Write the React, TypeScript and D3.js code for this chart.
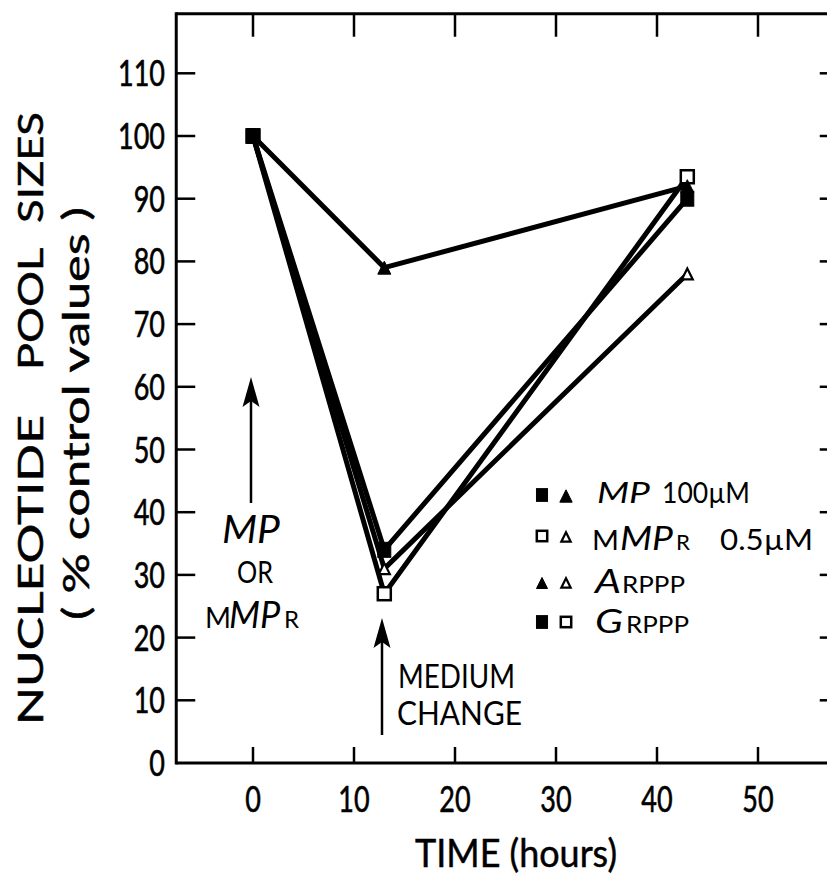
import React from 'react';
import * as d3 from 'd3';

// ---- data ----
const timeHours = [0, 13, 43];
const mpATP = [100, 79, 92];
const mpGTP = [100, 34, 90];
const mmprATP = [100, 31, 78];
const mmprGTP = [100, 27, 93.5];
const xTickValues = [0, 10, 20, 30, 40, 50];
const xTickLabels = ['0', '10', '20', '30', '40', '50'];
const yTickValues = [0, 10, 20, 30, 40, 50, 60, 70, 80, 90, 100, 110];
const yTickLabels = ['0', '10', '20', '30', '40', '50', '60', '70', '80', '90', '100', '110'];

type Shape = 'square' | 'triangle';
interface Series { name: string; values: number[]; shape: Shape; filled: boolean }
const series: Series[] = [
  { name: 'mMPR GTP', values: mmprGTP, shape: 'square', filled: false },
  { name: 'mMPR ATP', values: mmprATP, shape: 'triangle', filled: false },
  { name: 'MP ATP', values: mpATP, shape: 'triangle', filled: true },
  { name: 'MP GTP', values: mpGTP, shape: 'square', filled: true },
];

const W = 827, H = 879;
const FONT = 'Lato, "DejaVu Sans", sans-serif';

const x = d3.scaleLinear().domain([0, 50]).range([253, 758]);
const y = d3.scaleLinear().domain([0, 100]).range([763, 136]);
const xMin = -7.6, xMax = 57.5, yMax = 119.5;

function Marker({ cx, cy, shape, filled, s = 1 }: { cx: number; cy: number; shape: Shape; filled: boolean; s?: number }) {
  if (shape === 'square') {
    const w = 13 * s, h = (filled ? 15 : 13) * s;
    return (
      <rect x={cx - w / 2} y={cy - h / 2} width={w} height={h}
        fill={filled ? '#000' : '#fff'} stroke="#000" strokeWidth={filled ? 1 : 2.5} />
    );
  }
  const w = (filled ? 13 : 11) * s, h = (filled ? 13 : 11) * s;
  const p = `M${cx},${cy - h / 2} L${cx + w / 2},${cy + h / 2} L${cx - w / 2},${cy + h / 2} Z`;
  return <path d={p} fill={filled ? '#000' : '#fff'} stroke="#000" strokeWidth={filled ? 1 : 2.2} strokeLinejoin="miter" />;
}

function Arrow({ ax, y0, y1 }: { ax: number; y0: number; y1: number }) {
  return (
    <g>
      <line x1={ax} x2={ax} y1={y0} y2={y1 + 20} stroke="#000" strokeWidth={2.5} />
      <path d={`M${ax},${y1} L${ax + 8.5},${y1 + 30} L${ax},${y1 + 24} L${ax - 8.5},${y1 + 30} Z`} fill="#000" />
    </g>
  );
}

export default function App() {
  const line = d3.line<number>().x((_, i) => x(timeHours[i])).y((d) => y(d));
  const left = x(xMin), right = x(xMax), top = y(yMax), bottom = y(0);

  return (
    <svg width={W} height={H} style={{ position: 'absolute', left: 0, top: 0, background: '#fff' }}
      fontFamily={FONT}>
      <rect x={0} y={0} width={W} height={H} fill="#fff" />
      {/* frame */}
      <g stroke="#000" strokeWidth={3} fill="none">
        <line x1={left} x2={right} y1={bottom} y2={bottom} />
        <line x1={left} x2={right} y1={top} y2={top} />
        <line x1={left} x2={left} y1={top - 1.5} y2={bottom + 1.5} />
        <line x1={right} x2={right} y1={top} y2={bottom} />
      </g>
      {/* ticks */}
      <g stroke="#000" strokeWidth={2.5}>
        {xTickValues.map((v) => (
          <g key={'xt' + v}>
            <line x1={x(v)} x2={x(v)} y1={bottom} y2={bottom - 16} />
            <line x1={x(v)} x2={x(v)} y1={top} y2={top + 23} />
          </g>
        ))}
        {yTickValues.filter((v) => v > 0).map((v) => (
          <g key={'yt' + v}>
            <line x1={left} x2={left + 19} y1={y(v)} y2={y(v)} />
            <line x1={right} x2={right - 14} y1={y(v)} y2={y(v)} />
          </g>
        ))}
      </g>
      {/* tick labels */}
      <g fill="#000" fontSize={36} stroke="#000" strokeWidth={0.6}>
        {xTickValues.map((v, i) => (
          <g key={'xl' + v} transform={`translate(${x(v)},812) scale(0.75,1)`}>
            <text textAnchor="middle">{xTickLabels[i]}</text>
          </g>
        ))}
        {yTickValues.map((v, i) => (
          <g key={'yl' + v} transform={`translate(165,${y(v) + 13}) scale(0.75,1)`}>
            <text textAnchor="end">{yTickLabels[i]}</text>
          </g>
        ))}
      </g>
      {/* axis titles */}
      <text x={415} y={867} fontSize={39} textLength={202} lengthAdjust="spacingAndGlyphs" stroke="#000" strokeWidth={0.5}>TIME (hours)</text>
      <g fontSize={35} stroke="#000" strokeWidth={0.5}>
        <text transform="translate(43,725) rotate(-90)" textLength={310} lengthAdjust="spacingAndGlyphs">NUCLEOTIDE</text>
        <text transform="translate(43,370) rotate(-90)" textLength={122} lengthAdjust="spacingAndGlyphs">POOL</text>
        <text transform="translate(43,223) rotate(-90)" textLength={111} lengthAdjust="spacingAndGlyphs">SIZES</text>
        <text transform="translate(89,620) rotate(-90)" fontSize={37} textLength={413} lengthAdjust="spacingAndGlyphs">( % control values )</text>
      </g>

      {/* data lines */}
      <g fill="none" stroke="#000" strokeWidth={5} strokeLinejoin="round">
        {series.map((s) => (
          <path key={'l' + s.name} d={line(s.values) || ''} />
        ))}
      </g>
      {/* markers */}
      {series.map((s) => (
        <g key={'m' + s.name}>
          {s.values.map((v, i) => (
            <Marker key={i} cx={x(timeHours[i])} cy={y(v)} shape={s.shape} filled={s.filled} />
          ))}
        </g>
      ))}

      {/* annotations */}
      <Arrow ax={251} y0={503} y1={377} />
      <text x={222} y={543} fontSize={38} fontStyle="italic" textLength={58} lengthAdjust="spacingAndGlyphs">MP</text>
      <text x={237} y={583} fontSize={30} textLength={36} lengthAdjust="spacingAndGlyphs">OR</text>
      <text y={628}>
        <tspan x={205} fontSize={28}>M</tspan>
        <tspan x={229} fontSize={36} fontStyle="italic">MP</tspan>
        <tspan x={284} fontSize={24}>R</tspan>
      </text>

      <Arrow ax={382} y0={735} y1={618} />
      <text x={398} y={688} fontSize={32} textLength={117} lengthAdjust="spacingAndGlyphs">MEDIUM</text>
      <text x={397} y={725} fontSize={32} textLength={125} lengthAdjust="spacingAndGlyphs">CHANGE</text>

      {/* legend */}
      <g>
        <Marker cx={542} cy={495} shape="square" filled={true} s={0.85} />
        <Marker cx={566} cy={496} shape="triangle" filled={true} s={0.95} />
        <text x={597} y={503} fontSize={28} fontStyle="italic" textLength={53} lengthAdjust="spacingAndGlyphs">MP</text>
        <text x={662} y={503} fontSize={28} textLength={88} lengthAdjust="spacingAndGlyphs">100µM</text>

        <Marker cx={542} cy={536} shape="square" filled={false} s={0.8} />
        <Marker cx={566} cy={537} shape="triangle" filled={false} s={0.85} />
        <text x={592} y={550} fontSize={27} textLength={27} lengthAdjust="spacingAndGlyphs">M</text>
        <text x={620} y={550} fontSize={32} fontStyle="italic" textLength={53} lengthAdjust="spacingAndGlyphs">MP</text>
        <text x={676} y={550} fontSize={22} textLength={14} lengthAdjust="spacingAndGlyphs">R</text>
        <text x={720} y={550} fontSize={28} textLength={93} lengthAdjust="spacingAndGlyphs">0.5µM</text>

        <Marker cx={542} cy={583} shape="triangle" filled={true} s={0.85} />
        <Marker cx={566} cy={583} shape="triangle" filled={false} s={0.85} />
        <text x={595} y={593} fontSize={33} fontStyle="italic" textLength={26} lengthAdjust="spacingAndGlyphs">A</text>
        <text x={622} y={593} fontSize={24} textLength={63} lengthAdjust="spacingAndGlyphs">RPPP</text>

        <Marker cx={542} cy={622} shape="square" filled={true} s={0.85} />
        <Marker cx={566} cy={622} shape="square" filled={false} s={0.8} />
        <text x={595} y={633} fontSize={33} fontStyle="italic" textLength={28} lengthAdjust="spacingAndGlyphs">G</text>
        <text x={626} y={633} fontSize={24} textLength={63} lengthAdjust="spacingAndGlyphs">RPPP</text>
      </g>
    </svg>
  );
}
